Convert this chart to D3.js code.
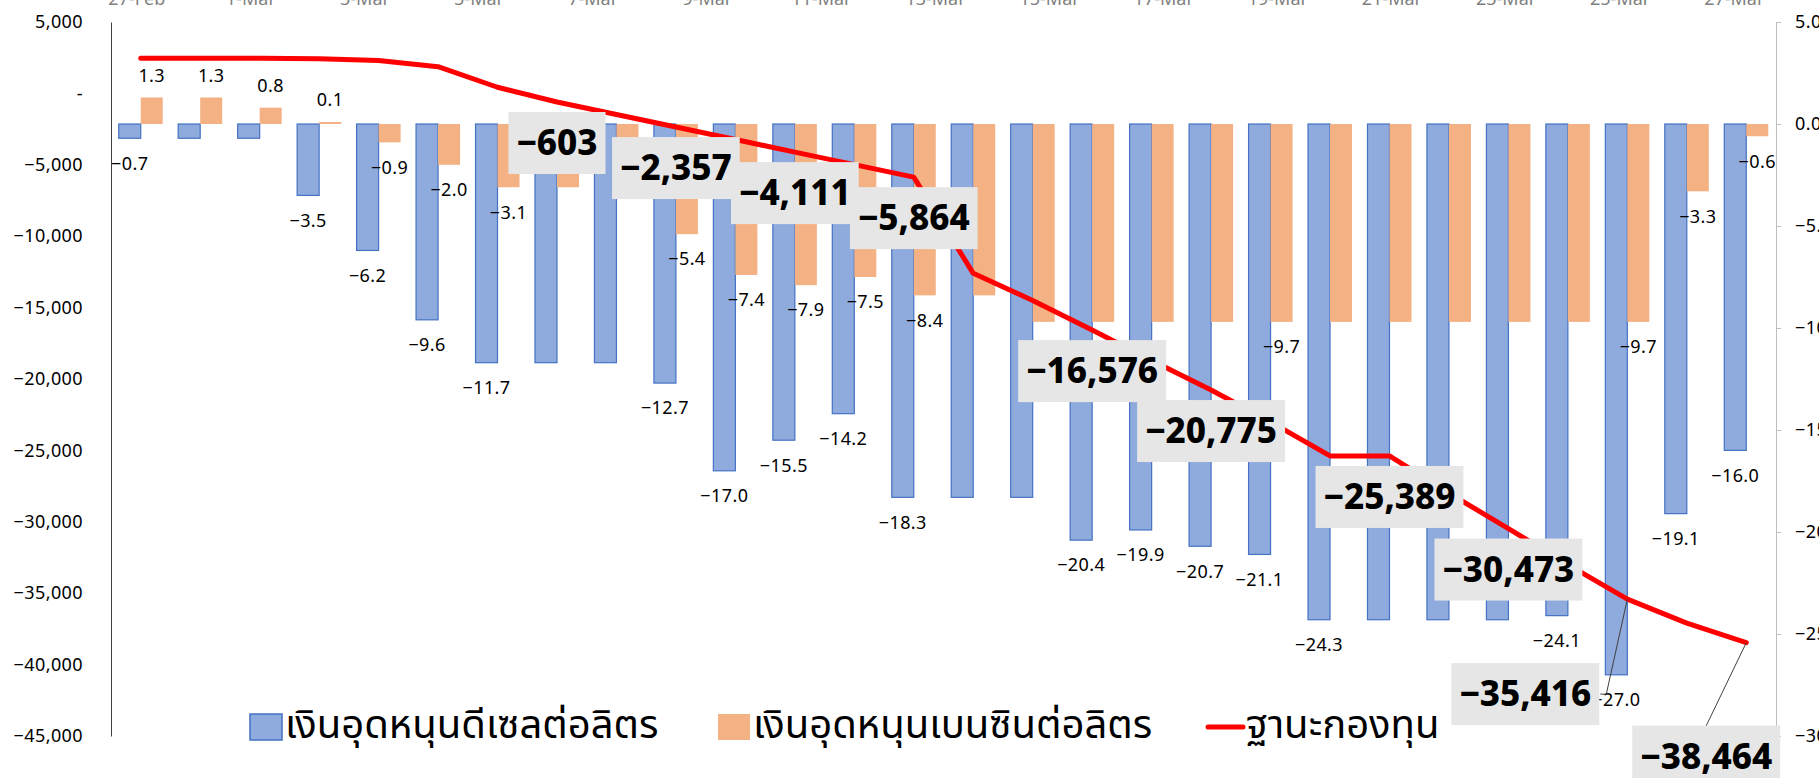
<!DOCTYPE html>
<html>
<head>
    <meta charset="utf-8" />
    <title></title>
    <style>
        body { margin: 0; background: #fff; overflow: hidden; }
        text { font-family: "Noto Sans", "Noto Sans Thai", sans-serif; }
        .num { font-size: 18px; fill: #000; letter-spacing: 0.4px; }
        .box text { font-size: 35px; font-weight: 800; fill: #000; }
        .legend text { font-size: 40px; fill: #000; }
    </style>
</head>
<body>
    <script src="https://d3js.org/d3.v7.min.js"></script>
    <script>
      var width = 1819;
      var height = 778;

      // 28 days shown as bars
      var days = ["27-Feb","28-Feb","1-Mar","2-Mar","3-Mar","4-Mar","5-Mar","6-Mar","7-Mar","8-Mar",
                  "9-Mar","10-Mar","11-Mar","12-Mar","13-Mar","14-Mar","15-Mar","16-Mar","17-Mar","18-Mar",
                  "19-Mar","20-Mar","21-Mar","22-Mar","23-Mar","24-Mar","25-Mar","26-Mar"];
      var topTicks = ["27-Feb","1-Mar","3-Mar","5-Mar","7-Mar","9-Mar","11-Mar","13-Mar",
                      "15-Mar","17-Mar","19-Mar","21-Mar","23-Mar","25-Mar","27-Mar"];

      // subsidy per litre (right axis)
      var diesel = [-0.7,-0.7,-0.7,-3.5,-6.2,-9.6,-11.7,-11.7,-11.7,-12.7,-17.0,-15.5,-14.2,-18.3,
                    -18.3,-18.3,-20.4,-19.9,-20.7,-21.1,-24.3,-24.3,-24.3,-24.3,-24.1,-27.0,-19.1,-16.0];
      var benzin = [1.3,1.3,0.8,0.1,-0.9,-2.0,-3.1,-3.1,-3.1,-5.4,-7.4,-7.9,-7.5,-8.4,
                    -8.4,-9.7,-9.7,-9.7,-9.7,-9.7,-9.7,-9.7,-9.7,-9.7,-9.7,-9.7,-3.3,-0.6];
      // fund position (left axis)
      var fund = [2460,2460,2460,2420,2300,1870,430,-603,-1480,-2357,-3230,-4111,-4990,-5864,
                  -12600,-14500,-16576,-18700,-20775,-23000,-25389,-25389,-28000,-30473,-33000,-35416,-37100,-38464];

      var dieselLabelIdx = [0,3,4,5,6,9,10,11,12,13,16,17,18,19,20,24,25,26,27];
      var benzinLabelIdx = [0,1,2,3,4,5,6,9,10,11,12,13,19,25,26,27];
      var fundLabelIdx = [7,9,11,13,16,18,21,23,25,27];

      var leftTicks = [5000,0,-5000,-10000,-15000,-20000,-25000,-30000,-35000,-40000,-45000];
      var rightTicks = [5,0,-5,-10,-15,-20,-25,-30];

      var legendNames = ["เงินอุดหนุนดีเซลต่อลิตร","เงินอุดหนุนเบนซินต่อลิตร","ฐานะกองทุน"];

      var svg = d3.select("body").append("svg")
        .attr("width", width)
        .attr("height", height);

      var x = d3.scaleBand().domain(d3.range(days.length)).range([111, 1776]).padding(0);
      var yL = d3.scaleLinear().domain([-45000, 5000]).range([736, 22]);
      var yR = d3.scaleLinear().domain([-30, 5]).range([736, 22]);
      var bw = x.step() * 0.37;
      var cx = function(i) { return x(i) + x.bandwidth() / 2; };

      var fmt1 = d3.format(".1f");

      // top date axis (cut by the page edge, as in the original)
      var xTop = d3.scalePoint().domain(topTicks).range([cx(0) - 4, cx(days.length - 1) - 12]);
      svg.append("g").selectAll("text").data(topTicks).enter().append("text")
        .attr("x", function(d) { return xTop(d); })
        .attr("y", 5)
        .attr("text-anchor", "middle")
        .style("font-size", "18px")
        .style("fill", "#7f7f7f")
        .text(function(d) { return d; });

      // left axis
      var gL = svg.append("g").attr("transform", "translate(111,0)")
        .call(d3.axisLeft(yL).tickValues(leftTicks).tickSize(0).tickPadding(28)
          .tickFormat(function(d) { return d === 0 ? "-" : d3.format(",")(d); }));
      gL.select(".domain").attr("stroke", "#404040");
      gL.selectAll("text").attr("class", "num").attr("font-family", null).attr("font-size", null);

      // right axis
      var gR = svg.append("g").attr("transform", "translate(1776,0)")
        .call(d3.axisRight(yR).tickValues(rightTicks).tickSize(5).tickPadding(14).tickFormat(fmt1));
      gR.select(".domain").attr("stroke", "#bfbfbf");
      gR.selectAll(".tick line").attr("stroke", "#bfbfbf");
      gR.selectAll("text").attr("class", "num").attr("font-family", null).attr("font-size", null);

      // bars
      svg.append("g").selectAll("rect").data(diesel).enter().append("rect")
        .attr("x", function(d, i) { return cx(i) - bw; })
        .attr("y", function(d) { return Math.min(yR(d), yR(0)); })
        .attr("width", bw)
        .attr("height", function(d) { return Math.abs(yR(d) - yR(0)); })
        .attr("fill", "#8FAADC")
        .attr("stroke", "#4472C4")
        .attr("stroke-width", 1.2);

      svg.append("g").selectAll("rect").data(benzin).enter().append("rect")
        .attr("x", function(d, i) { return cx(i); })
        .attr("y", function(d) { return Math.min(yR(d), yR(0)); })
        .attr("width", bw)
        .attr("height", function(d) { return Math.abs(yR(d) - yR(0)); })
        .attr("fill", "#F4B183");

      // bar labels
      function barLabel(idx, values, dx) {
        svg.append("g").selectAll("text").data(idx).enter().append("text")
          .attr("class", "num")
          .attr("x", function(i) { return cx(i) + dx; })
          .attr("y", function(i) { var v = values[i]; return v >= 0 ? yR(v) - 22 : yR(v) + 25; })
          .attr("dy", "0.35em")
          .attr("text-anchor", "middle")
          .text(function(i) { return fmt1(values[i]); });
      }
      barLabel(dieselLabelIdx, diesel, -bw / 2);
      barLabel(benzinLabelIdx, benzin, bw / 2);

      // fund line
      var line = d3.line()
        .x(function(d, i) { return cx(i); })
        .y(function(d) { return yL(d); });
      svg.append("path").datum(fund)
        .attr("d", line)
        .attr("fill", "none")
        .attr("stroke", "#FF0000")
        .attr("stroke-width", 5)
        .attr("stroke-linejoin", "round")
        .attr("stroke-linecap", "round");

      // fund labels in grey boxes
      var moved = { 25: { dx: -102, dy: 95, lead: "right" }, 27: { dx: -40, dy: 114, lead: "top" } };
      var boxes = svg.append("g").attr("class", "box");
      fundLabelIdx.forEach(function(i) {
        var px = cx(i), py = yL(fund[i]);
        var m = moved[i] || { dx: 0, dy: 41 };
        var bx = px + m.dx, by = py + m.dy;
        var g = boxes.append("g");
        var r = g.append("rect").attr("fill", "#E6E6E6");
        var t = g.append("text")
          .attr("x", bx).attr("y", by).attr("dy", "0.35em")
          .attr("text-anchor", "middle")
          .text(d3.format(",")(fund[i]));
        var w = t.node().getComputedTextLength() + 16;
        r.attr("x", bx - w / 2).attr("y", by - 31).attr("width", w).attr("height", 62);
        if (m.lead === "right") {
          g.append("path").attr("fill", "none").attr("stroke", "#404040").attr("stroke-width", 1)
            .attr("d", "M" + (bx + w / 2 + 1) + "," + by + "h6L" + px + "," + py);
        } else if (m.lead === "top") {
          g.append("path").attr("fill", "none").attr("stroke", "#404040").attr("stroke-width", 1)
            .attr("d", "M" + bx + "," + (by - 31) + "L" + px + "," + py);
        }
      });

      // legend
      var lg = svg.append("g").attr("class", "legend");
      var items = [
        { x: 250, kind: "rect", fill: "#8FAADC", stroke: "#4472C4" },
        { x: 718, kind: "rect", fill: "#F4B183", stroke: "none" },
        { x: 1208, kind: "line", fill: "#FF0000" }
      ];
      items.forEach(function(it, k) {
        if (it.kind === "rect") {
          lg.append("rect").attr("x", it.x).attr("y", 714).attr("width", 32).attr("height", 26)
            .attr("fill", it.fill).attr("stroke", it.stroke).attr("stroke-width", 1.5);
        } else {
          lg.append("line").attr("x1", it.x).attr("x2", it.x + 35).attr("y1", 727).attr("y2", 727)
            .attr("stroke", it.fill).attr("stroke-width", 5).attr("stroke-linecap", "round");
        }
        lg.append("text").attr("x", it.x + (it.kind === "rect" ? 35 : 38)).attr("y", 738)
          .text(legendNames[k]);
      });
    </script>
</body>
</html>
